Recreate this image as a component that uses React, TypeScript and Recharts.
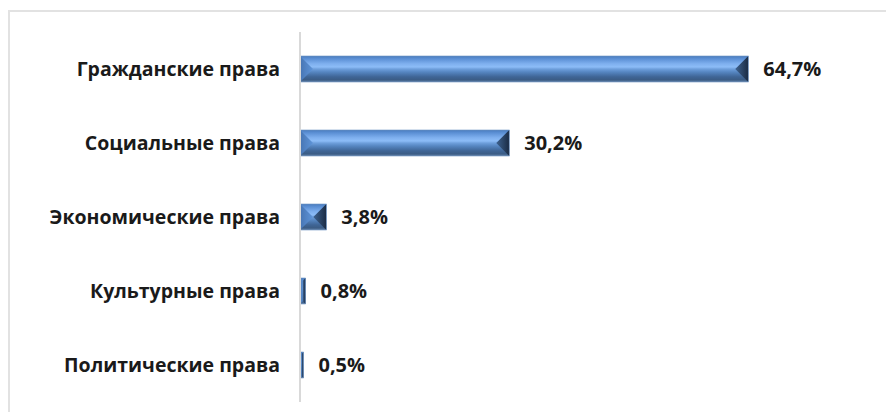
import React from 'react';
import { BarChart, Bar, XAxis, YAxis, LabelList } from 'recharts';

const categories = ['Гражданские права', 'Социальные права', 'Экономические права', 'Культурные права', 'Политические права'];
const shares = [64.7, 30.2, 3.8, 0.8, 0.5];

const data = categories.map((name, i) => ({ name, value: shares[i] }));

const font = '"Open Sans", "DejaVu Sans", sans-serif';

const BevelBar = (props: any) => {
  const { x, y, width, height, index } = props;
  if (!width || width <= 0) return null;
  const b = Math.min(width / 2, height / 2);
  const id = `bv-${index}`;
  const midY = y + height / 2;
  return (
    <g>
      <defs>
        <linearGradient id={`${id}-body`} x1="0" y1="0" x2="0" y2="1">
          <stop offset="0" stopColor="#4a7cbd" />
          <stop offset="0.1" stopColor="#5a8ed3" />
          <stop offset="0.3" stopColor="#7fb0ef" />
          <stop offset="0.42" stopColor="#8cbcf7" />
          <stop offset="0.5" stopColor="#6e9fdc" />
          <stop offset="0.62" stopColor="#5585c0" />
          <stop offset="0.8" stopColor="#3f6596" />
          <stop offset="0.92" stopColor="#3b5c85" />
          <stop offset="1" stopColor="#6685aa" />
        </linearGradient>
        <linearGradient id={`${id}-left`} x1="0" y1="0" x2="1" y2="0">
          <stop offset="0" stopColor="#4775b3" />
          <stop offset="1" stopColor="#5e94d8" />
        </linearGradient>
        <linearGradient id={`${id}-right`} x1="0" y1="0" x2="1" y2="0">
          <stop offset="0" stopColor="#3e628f" />
          <stop offset="1" stopColor="#1a2b44" />
        </linearGradient>
      </defs>
      <rect x={x} y={y} width={width} height={height} fill={`url(#${id}-body)`} />
      <polygon
        points={`${x},${y} ${x + b},${midY - (height / 2 - b)} ${x + b},${midY + (height / 2 - b)} ${x},${y + height}`}
        fill={`url(#${id}-left)`}
      />
      <polygon
        points={`${x + width},${y} ${x + width - b},${midY - (height / 2 - b)} ${x + width - b},${midY + (height / 2 - b)} ${x + width},${y + height}`}
        fill={`url(#${id}-right)`}
      />
      <rect x={x} y={y} width={width} height={height} fill="none" stroke="#6f95c4" strokeWidth={0.6} />
    </g>
  );
};

const App: React.FC = () => {
  return (
    <div style={{ marginTop: 2, width: 886, height: 410, border: '2px solid #e2e2e2', boxSizing: 'border-box', background: '#fff' }}>
      <BarChart
        width={882}
        height={406}
        data={data}
        layout="vertical"
        barSize={26}
        margin={{ top: 20, right: 107, left: 0, bottom: 16 }}
      >
        <XAxis type="number" domain={[0, 70]} hide />
        <YAxis
          type="category"
          dataKey="name"
          width={290}
          axisLine={{ stroke: '#d9d9d9', strokeWidth: 2 }}
          tickLine={false}
          tickMargin={14}
          tick={{ fontFamily: font, fontWeight: 700, fontSize: 19.5, fill: '#1a1a1a' }}
        />
        <Bar dataKey="value" shape={<BevelBar />} isAnimationActive={false}>
          <LabelList
            dataKey="value"
            position="right"
            offset={15}
            formatter={(v: any) => `${String(v).replace('.', ',')}%`}
            style={{ fontFamily: font, fontWeight: 700, fontSize: 20, fill: '#1a1a1a' }}
          />
        </Bar>
      </BarChart>
    </div>
  );
};

export default App;
